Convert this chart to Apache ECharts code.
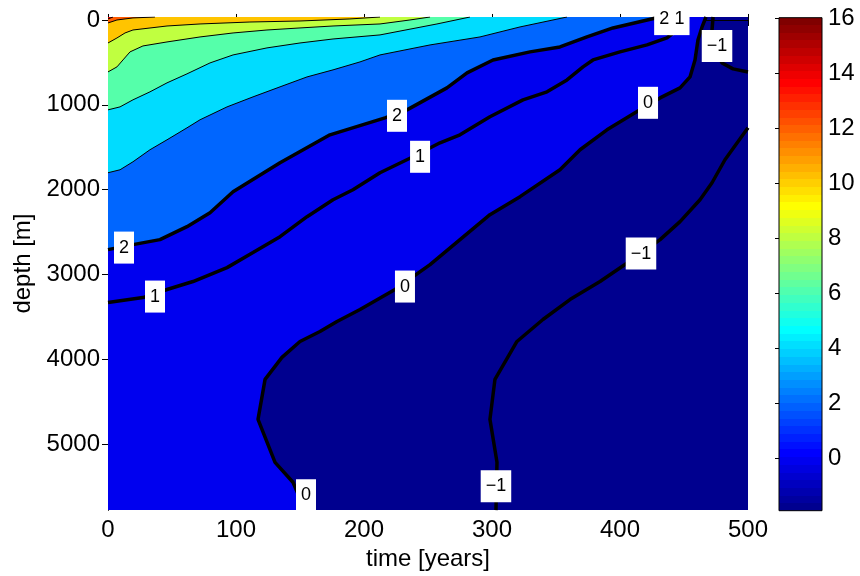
<!DOCTYPE html>
<html>
<head>
<meta charset="utf-8">
<script src="https://cdn.jsdelivr.net/npm/echarts@6/dist/echarts.min.js"></script>
<style>
  html, body { margin: 0; background: #fff; }
  #main { width: 860px; height: 576px; }
</style>
</head>
<body>
<div id="main"></div>
<script>
// axis ticks
var timeTicks = [0, 100, 200, 300, 400, 500];
var depthTicks = [0, 1000, 2000, 3000, 4000, 5000];
var cbarTicks = [0, 2, 4, 6, 8, 10, 12, 14, 16];
var depthRange = [-35, 5775];
var cbarRange = [-1.9, 16.02];

// contour lines, [time, depth]
var c14 = [[0, -12], [3.9, -35]];
var c12 = [[0, 35], [7, 0], [19.5, -24], [36.7, -35]];
var c10 = [[0, 271], [7, 212], [13.3, 153], [19.5, 118], [46.1, 71], [71.9, 47], [110.9, 24], [150, 12], [189, -12], [212.5, -35]];
var c8 = [[0, 612], [7, 553], [11.7, 471], [17.2, 376], [27.3, 306], [46.1, 259], [71.9, 200], [97.7, 153], [124.2, 118], [150, 94], [175.8, 71], [212.5, 47], [235.9, 0], [251.6, -35]];
var c6 = [[0, 1059], [9.4, 1024], [19.5, 941], [32.8, 847], [46.1, 741], [61.7, 635], [79.7, 506], [97.7, 412], [124.2, 329], [150, 271], [175.8, 224], [212.5, 176], [257, 47], [282.8, -35]];
var c4 = [[0, 1800], [9.4, 1765], [19.5, 1671], [32.8, 1529], [46.1, 1412], [61.7, 1271], [71.9, 1176], [93, 1024], [113.3, 906], [134.4, 788], [155.5, 671], [175.8, 588], [196.9, 494], [212.5, 412], [251.6, 294], [290.6, 200], [321.9, 82], [358.6, -35]];
var c2 = [[0, 2706], [19.5, 2647], [40.6, 2588], [61.7, 2435], [79.7, 2271], [97.7, 2024], [134.4, 1682], [173.4, 1353], [216.4, 1153], [233.6, 1059], [264.8, 800], [280.5, 624], [300.8, 471], [329.7, 376], [353.1, 318], [374.2, 200], [394.5, 94], [431.3, -35]];
var c1 = [[0, 3329], [27.3, 3271], [46.1, 3176], [66.4, 3082], [93, 2918], [113.3, 2741], [134.4, 2553], [155.5, 2318], [175.8, 2118], [191.4, 2000], [212.5, 1800], [238.3, 1612], [259.4, 1447], [275, 1353], [298.4, 1141], [324.2, 941], [343, 847], [358.6, 706], [371.1, 553], [378.9, 471], [400, 376], [421.1, 294], [436.7, 212], [446.9, 94], [453.1, -35]];
var c0 = [[153.9, 5775], [144.5, 5447], [130.5, 5212], [117.2, 4706], [122.7, 4235], [135.9, 3976], [150, 3788], [165.6, 3671], [178.9, 3553], [196.9, 3412], [224.2, 3176], [251.6, 2882], [275, 2588], [298.4, 2294], [321.9, 2082], [353.1, 1765], [368.8, 1529], [389.8, 1294], [415.6, 1059], [431.3, 918], [446.9, 800], [454.7, 671], [458.6, 471], [460.9, 235], [464.1, 82], [467.2, -35]];
var cm1a = [[472.7, -35], [471.9, 118], [474.2, 353], [479.7, 506], [488.3, 576], [500, 612]];
var cm1b = [[303.1, 5775], [303.9, 5212], [298.4, 4706], [302.3, 4235], [319.5, 3788], [339.8, 3529], [360.9, 3294], [384.4, 3082], [403.9, 2882], [416.4, 2753], [431.3, 2588], [446.9, 2376], [462.5, 2118], [471.9, 1918], [482, 1647], [500, 1271]];

// contour labels [time, depth, text]
var contourLabels = [
  [12.5, 2682, '2'], [36.7, 3259, '1'], [225.8, 1129, '2'], [243.8, 1612, '1'],
  [232, 3141, '0'], [421.9, 976, '0'], [416.4, 2753, '\u22121'], [475.8, 306, '\u22121'],
  [154.7, 5600, '0'], [303.1, 5494, '\u22121'], [434.5, -10, '2'], [446.5, -10, '1']
];

var FONT = 'Liberation Sans, Arial, Helvetica, sans-serif';

// jet colormap (64 steps)
function jet(i) {
  var x = i / 64;
  function c(v) { return Math.round(Math.max(0, Math.min(1, v)) * 255); }
  return 'rgb(' + c(1.5 - Math.abs(4 * x - 3)) + ',' + c(1.5 - Math.abs(4 * x - 2)) + ',' + c(1.5 - Math.abs(4 * x - 1)) + ')';
}

var TL = [[0, depthRange[0]]];
var fills = [
  { pts: c0.concat([[0, depthRange[0]], [0, depthRange[1]]]), color: '#0000ef' },
  { pts: c2.concat(TL), color: '#0066ff' },
  { pts: c4.concat(TL), color: '#00dcff' },
  { pts: c6.concat(TL), color: '#55ffaa' },
  { pts: c8.concat(TL), color: '#c0ff40' },
  { pts: c10.concat(TL), color: '#ffc400' },
  { pts: c12.concat(TL), color: '#ff5a00' },
  { pts: c14.concat(TL), color: '#e60000' }
];

function polySeries(pts, color) {
  return {
    type: 'custom', silent: true, z: 1, data: pts,
    renderItem: function (params, api) {
      if (params.dataIndex !== 0) return;
      return {
        type: 'polygon',
        shape: { points: pts.map(function (p) { return api.coord(p); }) },
        style: { fill: color }
      };
    }
  };
}
function lineSeries(pts, width) {
  return {
    type: 'line', data: pts, symbol: 'none', silent: true, z: 3,
    lineStyle: { color: '#000', width: width }
  };
}

var series = [];
fills.forEach(function (f) { series.push(polySeries(f.pts, f.color)); });
[c14, c12, c10, c8, c6, c4].forEach(function (c) { series.push(lineSeries(c, 1)); });
[c2, c1, c0, cm1a, cm1b].forEach(function (c) { series.push(lineSeries(c, 3.5)); });
series.push({
  type: 'scatter', data: contourLabels, symbolSize: 1, z: 5, silent: true, clip: false,
  itemStyle: { color: 'rgba(0,0,0,0)', opacity: 1 },
  label: {
    show: true, position: 'inside', formatter: function (p) { return p.value[2]; },
    backgroundColor: '#ffffff', padding: [7, 5], fontSize: 18, lineHeight: 18,
    color: '#000', opacity: 1, fontFamily: FONT
  }
});

// colorbar
var stops = [];
for (var i = 1; i <= 64; i++) {
  stops.push({ offset: (i - 1) / 64, color: jet(i) });
  stops.push({ offset: i / 64, color: jet(i) });
}
series.push({
  type: 'custom', xAxisIndex: 2, yAxisIndex: 2, silent: true,
  data: [[0, cbarRange[0], cbarRange[1]]],
  renderItem: function (params, api) {
    var a = api.coord([0, cbarRange[1]]);
    var b = api.coord([1, cbarRange[0]]);
    return {
      type: 'rect',
      shape: { x: a[0], y: a[1], width: b[0] - a[0], height: b[1] - a[1] },
      style: {
        fill: new echarts.graphic.LinearGradient(0, 1, 0, 0, stops),
        stroke: '#000', lineWidth: 1
      }
    };
  }
});

var tickLabel = { color: '#000', fontSize: 24, fontFamily: FONT };
var option = {
  animation: false,
  backgroundColor: '#fff',
  grid: [
    { left: 108, right: 112, top: 17, bottom: 65, show: true, backgroundColor: '#00008f', borderWidth: 0 },
    { left: 779, right: 38, top: 17.7, bottom: 65.3 }
  ],
  xAxis: [
    {
      type: 'value', gridIndex: 0, min: 0, max: 500, interval: 100,
      name: 'time [years]', nameLocation: 'middle', nameGap: 32,
      nameTextStyle: tickLabel,
      axisLine: { lineStyle: { color: '#000', width: 1 } },
      axisTick: { inside: true, length: 6, lineStyle: { color: '#000' } },
      axisLabel: Object.assign({ margin: 8 }, tickLabel),
      splitLine: { show: false }
    },
    {
      type: 'value', gridIndex: 0, min: 0, max: 500, interval: 100, position: 'top',
      axisLine: { lineStyle: { color: '#000', width: 1 } },
      axisTick: { inside: true, length: 6, lineStyle: { color: '#000' } },
      axisLabel: { show: false }, splitLine: { show: false }
    },
    { type: 'value', gridIndex: 1, min: 0, max: 1, show: false }
  ],
  yAxis: [
    {
      type: 'value', gridIndex: 0, inverse: true, min: depthRange[0], max: depthRange[1],
      name: 'depth [m]', nameLocation: 'middle', nameGap: 72,
      nameTextStyle: tickLabel,
      axisLine: { lineStyle: { color: '#000', width: 1 } },
      axisTick: { inside: true, length: 6, customValues: depthTicks, lineStyle: { color: '#000' } },
      axisLabel: Object.assign({ margin: 8, customValues: depthTicks, formatter: function (v) { return String(v); } }, tickLabel),
      splitLine: { show: false }
    },
    {
      type: 'value', gridIndex: 0, inverse: true, min: depthRange[0], max: depthRange[1], position: 'right',
      axisLine: { lineStyle: { color: '#000', width: 1 } },
      axisTick: { inside: true, length: 6, customValues: depthTicks, lineStyle: { color: '#000' } },
      axisLabel: { show: false }, splitLine: { show: false }
    },
    {
      type: 'value', gridIndex: 1, min: cbarRange[0], max: cbarRange[1], position: 'right',
      axisLine: { show: false },
      axisTick: { inside: true, length: 4, customValues: cbarTicks, lineStyle: { color: '#000' } },
      axisLabel: Object.assign({ margin: 6, customValues: cbarTicks }, tickLabel),
      splitLine: { show: false }
    },
    {
      type: 'value', gridIndex: 1, min: cbarRange[0], max: cbarRange[1], position: 'left',
      axisLine: { show: false },
      axisTick: { inside: true, length: 4, customValues: cbarTicks, lineStyle: { color: '#000' } },
      axisLabel: { show: false }, splitLine: { show: false }
    }
  ],
  series: series
};

var chart = echarts.init(document.getElementById('main'));
chart.setOption(option);
</script>
</body>
</html>
